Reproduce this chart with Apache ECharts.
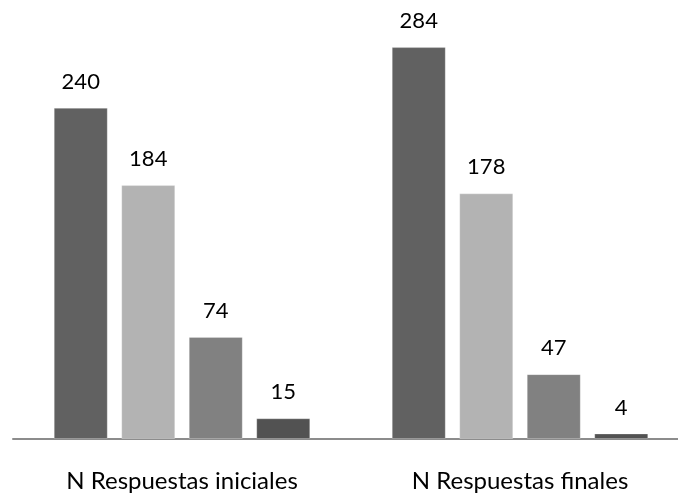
<!DOCTYPE html>
<html>
<head>
<meta charset="utf-8">
<script src="https://cdn.jsdelivr.net/npm/echarts@6/dist/echarts.min.js"></script>
<style>
  html, body { margin: 0; padding: 0; background: #fff; }
  #chart { width: 678px; height: 497px; }
</style>
</head>
<body>
<div id="chart"></div>
<script>
const categories = ['N Respuestas iniciales', 'N Respuestas finales']
const serie1 = [240, 284]
const serie2 = [184, 178]
const serie3 = [74, 47]
const serie4 = [15, 4]

const colors = ['#616161', '#b3b3b3', '#818181', '#525252']
const labelFont = 'Lato, "Open Sans", sans-serif'

const chart = echarts.init(document.getElementById('chart'))

const series = [serie1, serie2, serie3, serie4].map((data, idx) => ({
  type: 'bar',
  data,
  barWidth: 54,
  barGap: '25%',
  itemStyle: {
    color: colors[idx],
    borderColor: 'rgba(255,255,255,0.25)',
    borderWidth: 1,
  },
  label: {
    show: true,
    position: 'top',
    distance: 15,
    color: '#000',
    fontSize: 22,
    fontFamily: labelFont,
  },
}))

chart.setOption({
  animation: false,
  grid: {
    left: 13,
    width: 676,
    top: 25,
    bottom: 58,
    outerBoundsMode: 'none',
  },
  xAxis: {
    type: 'category',
    data: categories,
    axisTick: { show: false },
    axisLine: { lineStyle: { color: '#8c8c8c', width: 2 } },
    axisLabel: {
      color: '#000',
      fontSize: 24,
      fontFamily: labelFont,
      margin: 30,
    },
  },
  yAxis: {
    type: 'value',
    min: 0,
    max: 300,
    show: false,
    splitLine: { show: false },
  },
  series,
})
</script>
</body>
</html>
